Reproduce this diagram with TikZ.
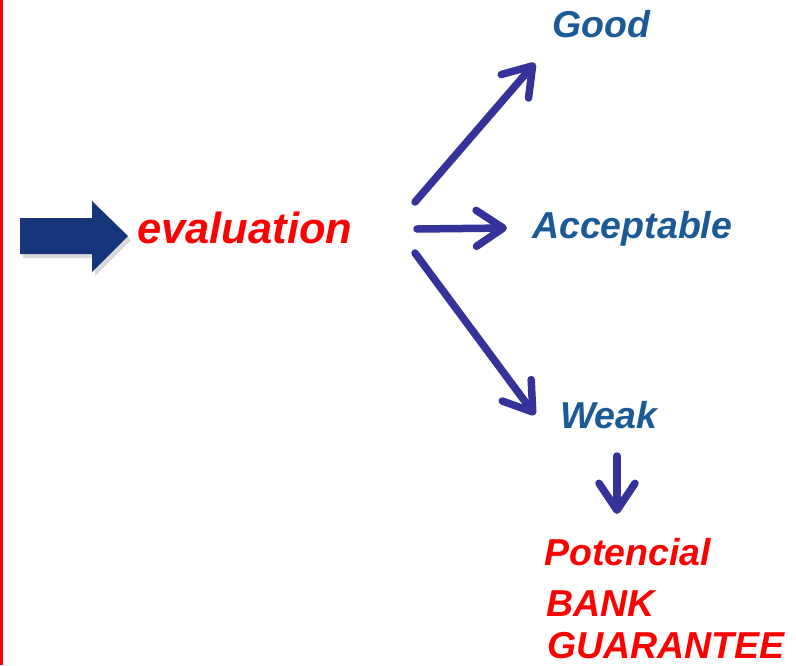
\documentclass[tikz,border=0pt]{standalone}
\usepackage{fontspec}
\setmainfont{Liberation Sans}
\usetikzlibrary{arrows.meta}
\definecolor{txtblue}{HTML}{1B5A96}
\definecolor{arrblue}{HTML}{353399}
\definecolor{navy}{HTML}{17357A}
\definecolor{redtxt}{HTML}{FF0000}
\tikzset{
  lbl/.style={anchor=base west, inner sep=0pt, font=\fontsize{37.5}{42}\selectfont\bfseries\itshape},
  bluelbl/.style={lbl, text=txtblue},
  redlbl/.style={lbl, text=redtxt},
  conn/.style={draw=arrblue, line width=7.5pt, line cap=round,
    -{Straight Barb[length=27pt, width=36pt, line cap=round, line join=round]}},
}
\begin{document}
\begin{tikzpicture}[x=1pt,y=-1pt]
\useasboundingbox (0,0) rectangle (796,665);
\fill[white] (0,0) rectangle (796,665);
\fill[redtxt] (0,0) rectangle (2.5,665);
% block arrow with soft shadow
\fill[black, opacity=0.15] (23,222) -- (95,222) -- (95,205) -- (131,240) -- (95,276) -- (95,258) -- (23,258) -- cycle;
\fill[navy] (20,218) -- (92,218) -- (92,201) -- (128,236) -- (92,272) -- (92,254) -- (20,254) -- cycle;
% texts
\node[redlbl, font=\fontsize{43.5}{48}\selectfont\bfseries\itshape] (eval) at (137,243) {evaluation};
\node[bluelbl] (good) at (552,37) {Good};
\node[bluelbl] (acc) at (532,238) {Acceptable};
\node[bluelbl] (weak) at (560,428) {Weak};
\node[redlbl] (pot) at (544,565) {Potencial};
\node[redlbl] (bank) at (546,616) {BANK};
\node[redlbl] (guar) at (547,658) {GUARANTEE};
% connector points
\coordinate (s1) at (415,202);
\coordinate (s2) at (417,229);
\coordinate (s3) at (415,253);
\coordinate (e1) at (535,63);
\coordinate (e2) at (507,228);
\coordinate (e3) at (535,415);
\coordinate (s4) at (617,456);
\coordinate (e4) at (617,514);
\draw[conn] (s1) -- (e1);
\draw[conn] (s2) -- (e2);
\draw[conn] (s3) -- (e3);
\draw[conn] (s4) -- (e4);
\end{tikzpicture}
\end{document}
